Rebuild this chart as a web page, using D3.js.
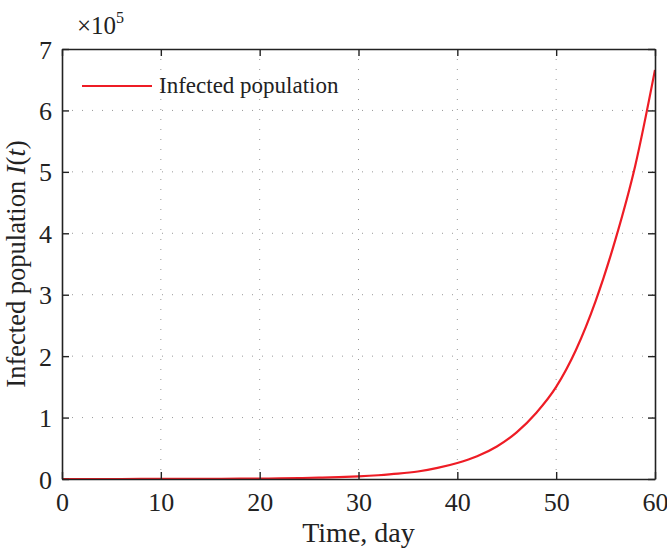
<!DOCTYPE html>
<html><head><meta charset="utf-8">
<script src="https://cdn.jsdelivr.net/npm/d3@7"></script>
<style>body{margin:0;background:#fff}svg{display:block}text{font-family:"Liberation Serif","Times New Roman",serif;fill:#222}</style>
</head><body><svg id="c" width="667" height="552"></svg>
<script>
const days = [0,2,4,6,8,10,12,14,16,18,20,22,24,26,28,30,32,34,36,38,40,42,44,46,48,50,52,54,56,58,60];
const infected = [0.0001,0.00015,0.00025,0.0004,0.0006,0.0009,0.0014,0.002,0.003,0.0045,0.007,0.010,0.015,0.021,0.030,0.043,0.061,0.086,0.122,0.18,0.26,0.37,0.53,0.76,1.08,1.5,2.1,2.9,3.9,5.1,6.66];
const xTicks = [0,10,20,30,40,50,60];
const yTicks = [0,1,2,3,4,5,6,7];
const seriesName = "Infected population";

const svg = d3.select("#c");
const L=62,R=655,T=49,B=479;
const x = d3.scaleLinear().domain([0,60]).range([L,R]);
const y = d3.scaleLinear().domain([0,7]).range([B,T]);

// grid
const g = svg.append("g");
g.selectAll(".gx").data(xTicks.slice(1,-1)).join("line")
 .attr("x1",d=>x(d)).attr("x2",d=>x(d)).attr("y1",T).attr("y2",B)
 .attr("stroke","#999").attr("stroke-width",1).attr("stroke-dasharray","1,9");
g.selectAll(".gy").data(yTicks.slice(1,-1)).join("line")
 .attr("x1",L).attr("x2",R).attr("y1",d=>y(d)).attr("y2",d=>y(d))
 .attr("stroke","#999").attr("stroke-width",1).attr("stroke-dasharray","1,9");

// curve
const line = d3.line().x((d,i)=>x(days[i])).y(d=>y(d)).curve(d3.curveMonotoneX);
svg.append("path").datum(infected).attr("d",line).attr("fill","none")
 .attr("stroke","#ee1c25").attr("stroke-width",2.2);

// axes
const fmt = d3.format("d");
const ax = svg.append("g").attr("transform",`translate(0,${B})`)
 .call(d3.axisBottom(x).tickValues(xTicks).tickFormat(fmt).tickSizeInner(-7).tickSizeOuter(0).tickPadding(14));
const ay = svg.append("g").attr("transform",`translate(${L},0)`)
 .call(d3.axisLeft(y).tickValues(yTicks).tickFormat(fmt).tickSizeInner(-7).tickSizeOuter(0).tickPadding(10));
const at = svg.append("g").attr("transform",`translate(0,${T})`)
 .call(d3.axisTop(x).tickValues(xTicks).tickSizeInner(-7).tickSizeOuter(0).tickFormat(""));
const ar = svg.append("g").attr("transform",`translate(${R},0)`)
 .call(d3.axisRight(y).tickValues(yTicks).tickSizeInner(-7).tickSizeOuter(0).tickFormat(""));
[ax,ay,at,ar].forEach(a=>{
  a.attr("font-family","Liberation Serif").attr("font-size",26);
  a.select(".domain").attr("stroke","#222").attr("stroke-width",1.6);
  a.selectAll(".tick line").attr("stroke","#222").attr("stroke-width",1.4);
  a.selectAll("text").attr("fill","#222");
});
ax.selectAll("text").attr("dy","0.71em");
ay.selectAll("text").attr("dy","0.35em");

// exponent
const ex = svg.append("text").attr("x",77).attr("y",34).style("font-size","25px");
ex.append("tspan").text("×10");
ex.append("tspan").text("5").attr("dy",-11).style("font-size","16px");

// axis titles
svg.append("text").attr("x",(L+R)/2).attr("y",542).attr("text-anchor","middle")
 .style("font-size","28px").text("Time, day");
const yt = svg.append("text").attr("transform",`translate(25,${(T+B)/2}) rotate(-90)`)
 .attr("text-anchor","middle").style("font-size","26.5px");
yt.append("tspan").text("Infected population ");
yt.append("tspan").text("I").style("font-style","italic");
yt.append("tspan").text("(");
yt.append("tspan").text("t").style("font-style","italic");
yt.append("tspan").text(")");

// legend
svg.append("line").attr("x1",82).attr("x2",152).attr("y1",86).attr("y2",86)
 .attr("stroke","#ee1c25").attr("stroke-width",2.2);
svg.append("text").attr("x",159).attr("y",93).style("font-size","23px").text(seriesName);
</script></body></html>
